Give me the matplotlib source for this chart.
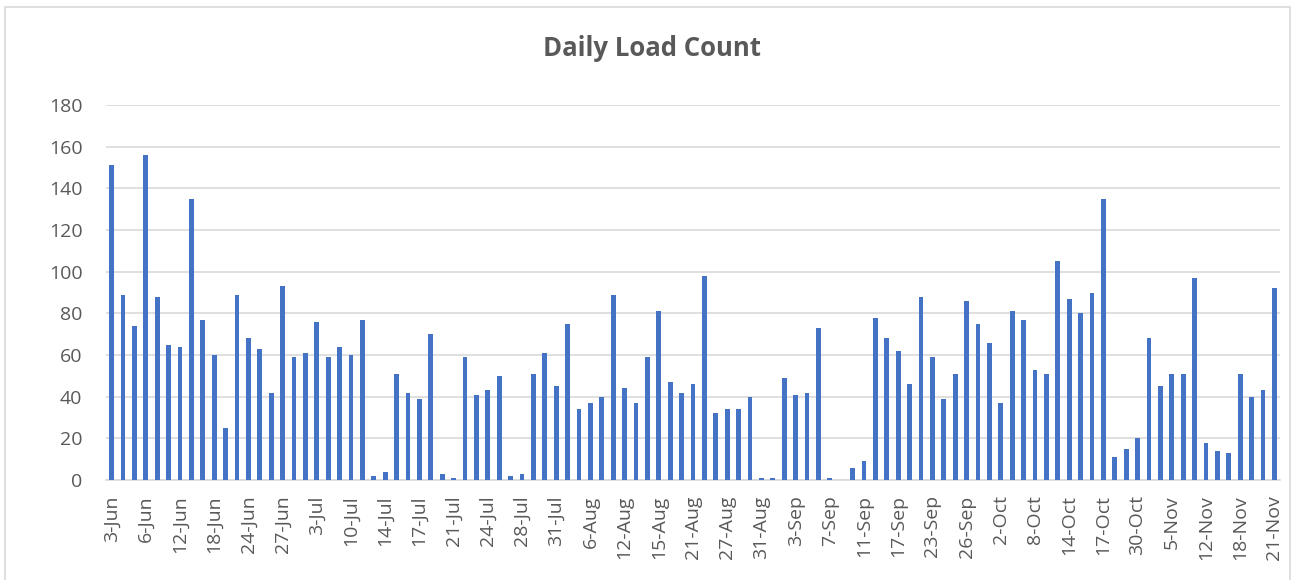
import matplotlib.pyplot as plt
import numpy as np
from matplotlib.patches import Rectangle

# daily load counts, one per listed date (103 categories)
loads = [151, 89, 74, 156, 88, 65, 64, 135, 77, 60, 25, 89, 68, 63, 42, 93, 59, 61, 76, 59,
         64, 60, 77, 2, 4, 51, 42, 39, 70, 3, 1, 59, 41, 43, 50, 2, 3, 51, 61, 45,
         75, 34, 37, 40, 89, 44, 37, 59, 81, 47, 42, 46, 98, 32, 34, 34, 40, 1, 1, 49,
         41, 42, 73, 1, 0, 6, 9, 78, 68, 62, 46, 88, 59, 39, 51, 86, 75, 66, 37, 81,
         77, 53, 51, 105, 87, 80, 90, 135, 11, 15, 20, 68, 45, 51, 51, 97, 18, 14, 13, 51,
         40, 43, 92]

# Excel shows every 3rd category label
tick_labels = ['3-Jun', '6-Jun', '12-Jun', '18-Jun', '24-Jun', '27-Jun', '3-Jul', '10-Jul',
               '14-Jul', '17-Jul', '21-Jul', '24-Jul', '28-Jul', '31-Jul', '6-Aug', '12-Aug',
               '15-Aug', '21-Aug', '27-Aug', '31-Aug', '3-Sep', '7-Sep', '11-Sep', '17-Sep',
               '23-Sep', '26-Sep', '2-Oct', '8-Oct', '14-Oct', '17-Oct', '30-Oct', '5-Nov',
               '12-Nov', '18-Nov', '21-Nov']

plt.rcParams['font.family'] = ['Open Sans', 'DejaVu Sans']
grey = '#595959'

fig = plt.figure(figsize=(12.95, 5.8), dpi=100)
ax = fig.add_axes([106 / 1295, 1 - 480 / 580, (1280 - 106) / 1295, (480 - 105) / 580])

# chart border
fig.patches.append(Rectangle((5 / 1295, -0.05), 1285 / 1295, 1 - 7 / 580 + 0.05,
                             transform=fig.transFigure, fill=False,
                             edgecolor='#d9d9d9', linewidth=1.2))

x = np.arange(len(loads))
ax.bar(x, loads, width=0.42, color='#4472C4', zorder=3)

ax.set_xlim(-0.5, len(loads) - 0.5)
ax.set_ylim(0, 180)
ax.set_yticks(range(0, 181, 20))
ax.set_xticks(x[::3])
ax.set_xticklabels(tick_labels, rotation=90, fontsize=14, color=grey)
ax.tick_params(axis='y', labelsize=14, labelcolor=grey, length=0, pad=17)
ax.tick_params(axis='x', length=0, pad=11)

ax.grid(axis='y', color='#d9d9d9', linewidth=1.2, zorder=0)
for s in ['top', 'right', 'left']:
    ax.spines[s].set_visible(False)
ax.spines['bottom'].set_color('#d9d9d9')
ax.spines['bottom'].set_linewidth(1.2)

fig.text(0.5035, 1 - 48 / 580, 'Daily Load Count', ha='center', va='center',
         fontsize=18.5, fontweight='bold', color=grey)

fig.savefig('out.png', dpi=100)
